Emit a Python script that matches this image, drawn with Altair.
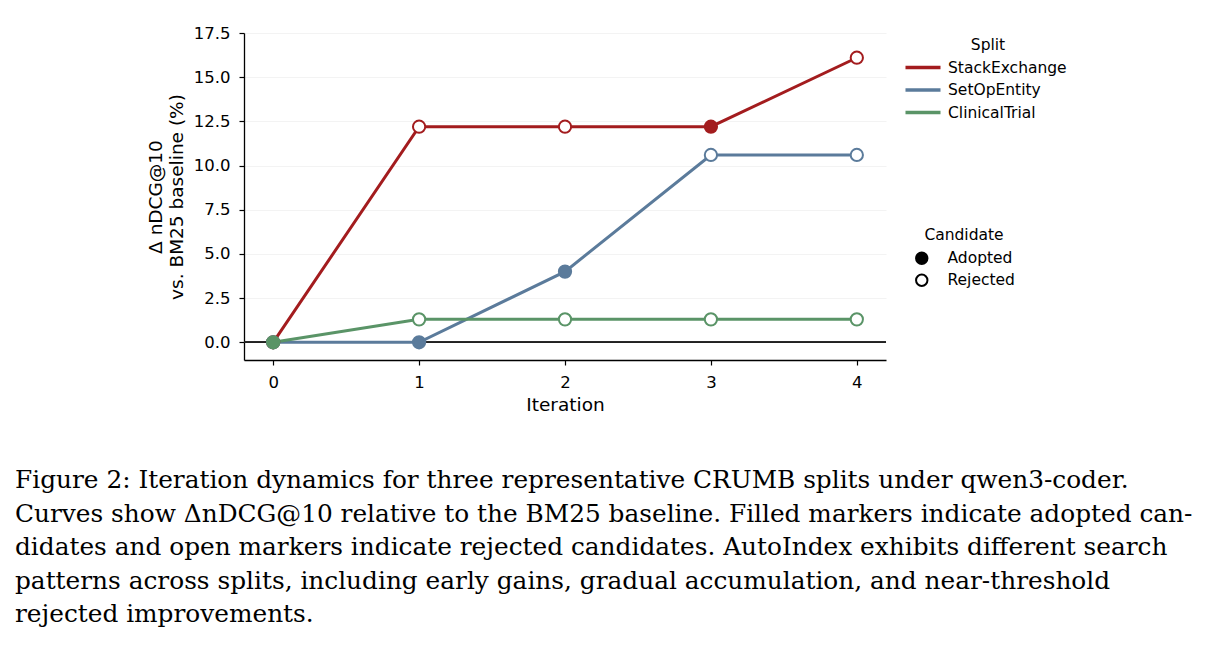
import altair as alt
import pandas as pd

iterations = [0, 1, 2, 3, 4]
splits = ["StackExchange", "SetOpEntity", "ClinicalTrial"]
split_colors = ["#a31c1e", "#5b7b9b", "#5a9467"]
candidate_kinds = ["Adopted", "Rejected"]

stack_exchange = [0.0, 12.2, 12.2, 12.2, 16.1]
set_op_entity = [0.0, 0.0, 4.0, 10.6, 10.6]
clinical_trial = [0.0, 1.3, 1.3, 1.3, 1.3]

stack_status = ["Adopted", "Rejected", "Rejected", "Adopted", "Rejected"]
setop_status = ["Adopted", "Adopted", "Adopted", "Rejected", "Rejected"]
clinical_status = ["Adopted", "Rejected", "Rejected", "Rejected", "Rejected"]

y_ticks = [0, 2.5, 5, 7.5, 10, 12.5, 15, 17.5]

caption = [
    "Figure 2: Iteration dynamics for three representative CRUMB splits under qwen3-coder.",
    "Curves show \u0394nDCG@10 relative to the BM25 baseline. Filled markers indicate adopted can-",
    "didates and open markers indicate rejected candidates. AutoIndex exhibits different search",
    "patterns across splits, including early gains, gradual accumulation, and near-threshold",
    "rejected improvements.",
]

rows = []
for name, values, status in [
    ("StackExchange", stack_exchange, stack_status),
    ("SetOpEntity", set_op_entity, setop_status),
    ("ClinicalTrial", clinical_trial, clinical_status),
]:
    for it, v, s in zip(iterations, values, status):
        rows.append({"Iteration": it, "Delta": v, "Split": name, "Candidate": s})
df = pd.DataFrame(rows)

FONT = "DejaVu Sans"
split_scale = alt.Scale(domain=splits, range=split_colors)

x_enc = alt.X(
    "Iteration:Q",
    title="Iteration",
    scale=alt.Scale(domain=[-0.2, 4.2], nice=False, zero=False),
    axis=alt.Axis(values=iterations, format="d", grid=False),
)
y_enc = alt.Y(
    "Delta:Q",
    title=["\u0394 nDCG@10", "vs. BM25 baseline (%)"],
    scale=alt.Scale(domain=[-1.0, 17.5], nice=False, zero=False),
    axis=alt.Axis(values=y_ticks, format=".1f", grid=True),
)

base = alt.Chart(df)

zero_line = base.mark_rule(color="#222222", strokeWidth=1).encode(y=alt.datum(0))

lines = base.mark_line(strokeWidth=3).encode(
    x=x_enc,
    y=y_enc,
    color=alt.Color(
        "Split:N",
        scale=split_scale,
        sort=splits,
        legend=alt.Legend(
            title="Split",
            orient="none",
            legendX=666,
            legendY=5,
            titleAnchor="middle",
            symbolType="M-1.6,0H1.6",
            symbolSize=479,
            symbolStrokeWidth=3.5,
            labelOffset=12,
            rowPadding=0.5,
            titlePadding=1,
            padding=0,
        ),
    ),
)

points = base.mark_point(filled=True, size=150, strokeWidth=2, opacity=1).encode(
    x=x_enc,
    y=y_enc,
    stroke=alt.Stroke("Split:N", scale=split_scale, legend=None),
    fill=alt.condition(
        alt.datum.Candidate == "Adopted",
        alt.Fill("Split:N", scale=split_scale, legend=None),
        alt.value("white"),
    ),
)

# legend-only layer for the marker style (no rows survive the filter)
candidate_key = base.transform_filter("false").mark_point(
    filled=True, size=130, stroke="black", strokeWidth=2, shape="circle", opacity=1
).encode(
    x=x_enc,
    y=y_enc,
    fill=alt.Fill(
        "Candidate:N",
        scale=alt.Scale(domain=candidate_kinds, range=["black", "white"]),
        legend=alt.Legend(
            title="Candidate",
            orient="none",
            legendX=670,
            legendY=195,
            titleAnchor="middle",
            symbolSize=130,
            symbolStrokeWidth=2,
            symbolStrokeColor="black",
            symbolOpacity=1,
            labelOffset=18,
            rowPadding=2,
            titlePadding=7,
            padding=0,
        ),
    ),
)

chart = (
    alt.layer(zero_line, lines, points, candidate_key)
    .resolve_scale(stroke="independent", fill="independent")
    .properties(
        width=642,
        height=327,
        autosize=alt.AutoSizeParams(type="none"),
        padding={"left": 236, "top": 25, "right": 320, "bottom": 270},
        title=alt.TitleParams(
            text=caption,
            orient="bottom",
            anchor="start",
            frame="group",
            dx=-229,
            offset=54,
            font="DejaVu Serif",
            fontSize=24.8,
            fontWeight="normal",
            color="black",
            lineHeight=33.5,
        ),
    )
    .configure_view(stroke=None)
    .configure_axis(
        labelFont=FONT,
        titleFont=FONT,
        labelFontSize=16.5,
        titleFontSize=18.5,
        titleFontWeight="normal",
        labelColor="black",
        titleColor="black",
        domainColor="black",
        domainWidth=1.3,
        tickColor="black",
        tickSize=5,
        tickWidth=1.2,
        gridColor="#f0f0f0",
        gridWidth=0.8,
        labelPadding=9,
    )
    .configure_axisY(titlePadding=7)
    .configure_axisX(titlePadding=5)
    .configure_legend(
        labelFont=FONT,
        titleFont=FONT,
        labelFontSize=15.5,
        titleFontSize=15.5,
        titleFontWeight="normal",
        labelColor="black",
        titleColor="black",
    )
)

chart.save("out.html", embed_options={"renderer": "svg", "actions": False})
